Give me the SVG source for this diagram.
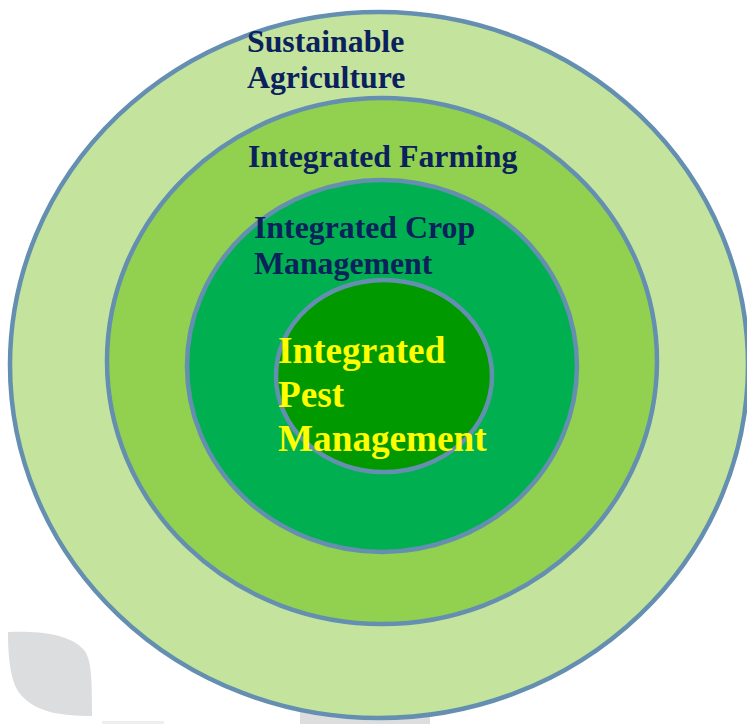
<svg xmlns="http://www.w3.org/2000/svg" width="747" height="724" viewBox="0 0 747 724">
<style>
.ring{stroke:#658fb0;stroke-width:4.5}
.dark{font-family:"Liberation Serif","Times New Roman",serif;font-weight:bold;font-size:31.8px;fill:#0a215c}
.yel{font-family:"Liberation Serif","Times New Roman",serif;font-weight:bold;font-size:37.2px;fill:#ffff00}
</style>
<rect width="747" height="724" fill="#ffffff"/>
<g id="background">
<path d="M8,632 C40,631 70,634 84,650 C92,660 92,682 92,716 C60,716 36,712 21,695 C11,684 8,660 8,632 Z" fill="#dcdddf"/>
<rect x="102" y="721" width="62" height="3" fill="#eeeeef"/>
<rect x="300" y="712" width="130" height="12" fill="#dcdddf"/>
</g>
<g id="sustainable-agriculture">
<ellipse class="ring" cx="379" cy="365" rx="369" ry="353" fill="#c4e49d"/>
<text class="dark" x="247" y="52">Sustainable</text>
<text class="dark" x="247" y="88">Agriculture</text>
</g>
<g id="integrated-farming">
<ellipse class="ring" cx="382" cy="361" rx="275" ry="263" fill="#92d050"/>
<text class="dark" x="248" y="167">Integrated Farming</text>
</g>
<g id="integrated-crop-management">
<ellipse class="ring" cx="382" cy="366" rx="195" ry="186" fill="#00b050"/>
<text class="dark" x="254" y="238">Integrated Crop</text>
<text class="dark" x="254" y="274">Management</text>
</g>
<g id="integrated-pest-management">
<ellipse class="ring" cx="384" cy="376" rx="108" ry="96" fill="#009900"/>
<text class="yel" x="278" y="363">Integrated</text>
<text class="yel" x="278" y="407">Pest</text>
<text class="yel" x="278" y="451">Management</text>
</g>
<g id="connectors"/>
</svg>
